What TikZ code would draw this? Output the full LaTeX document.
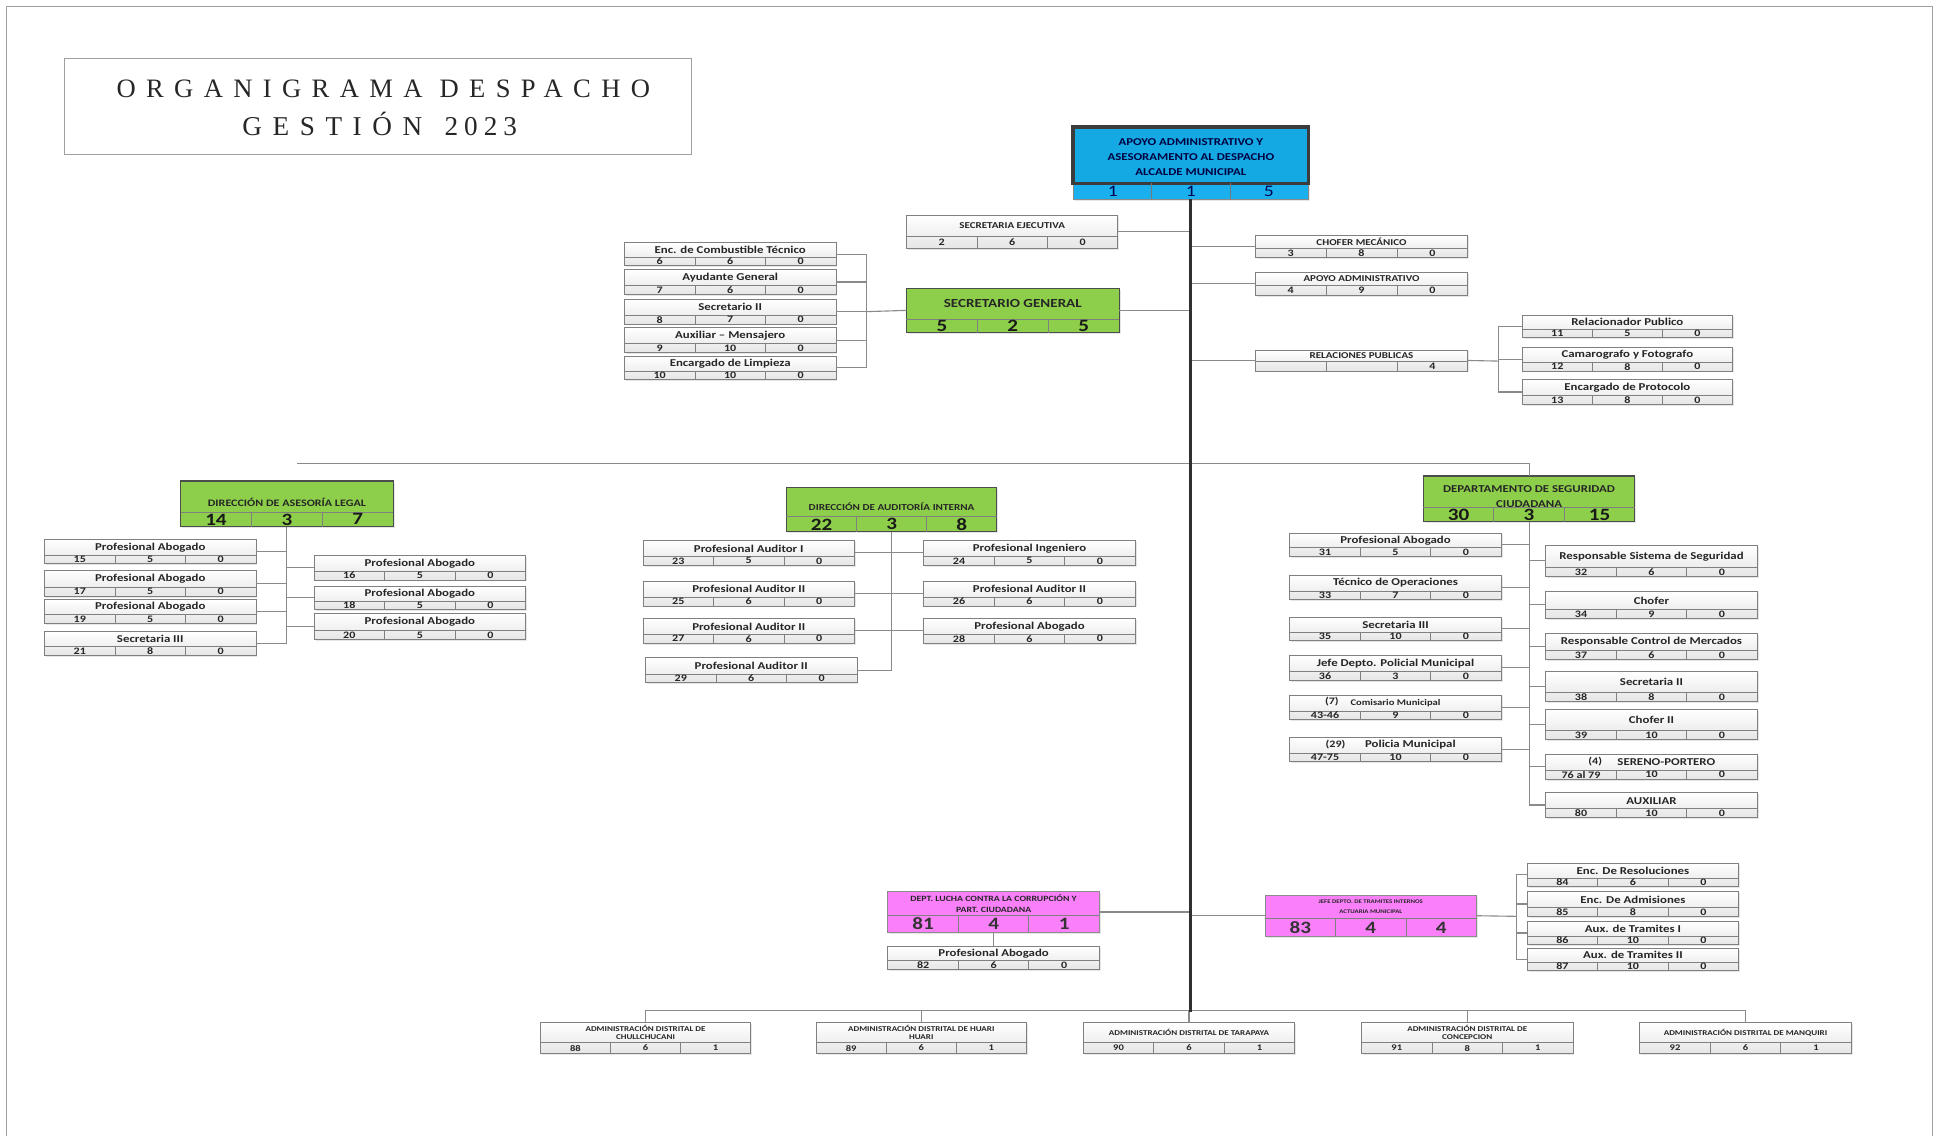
\documentclass[tikz,border=0pt]{standalone}
\usepackage{fontspec}
\setmainfont{Carlito}[FakeStretch=1.22]
\newfontfamily\headfont{Liberation Serif}[LetterSpace=39]
\newfontfamily\headyear{Liberation Serif}[LetterSpace=22]
\usetikzlibrary{calc,fit,shadows}

\definecolor{boxline}{HTML}{808080}
\definecolor{linkgray}{HTML}{8A8A8A}
\definecolor{trunkcol}{HTML}{303030}
\definecolor{greenfill}{HTML}{8DCF4A}
\definecolor{bluefill}{HTML}{14A9E3}
\definecolor{bluerow}{HTML}{1AB0EE}
\definecolor{blueedge}{HTML}{3C3C3C}
\definecolor{pinkfill}{HTML}{FA80FA}
\definecolor{framecol}{HTML}{A0A0A0}

\tikzset{
  rowh/.store in=\rowh, rowh=7pt,
  tshift/.store in=\tshift, tshift=0pt,
  softshadow/.style={drop shadow={shadow xshift=1.2pt, shadow yshift=-1.2pt, opacity=0.2}},
  boxshape/.style={draw=boxline, line width=0.7pt, top color=white, bottom color=black!10,
    inner sep=0pt, outer sep=0pt, softshadow},
  celldiv/.style={draw=boxline, line width=0.6pt},
  titletxt/.style={font=\bfseries\fontsize{8.5}{9.5}\selectfont, text=black!85, inner sep=0pt, align=center},
  numtxt/.style={font=\bfseries\fontsize{8}{8}\selectfont, text=black!85, inner sep=0pt},
  capstitle/.style={titletxt/.append style={font=\bfseries\fontsize{7.3}{8}\selectfont}},
  greenunit/.style={rowh=12pt,
    boxshape/.style={draw=black!70, line width=1pt, fill=greenfill, inner sep=0pt, outer sep=0pt, softshadow},
    celldiv/.style={draw=black!50, line width=0.7pt},
    numtxt/.style={font=\bfseries\fontsize{14}{14}\selectfont, text=black!90, inner sep=0pt}},
  pinkunit/.style={rowh=14pt,
    boxshape/.style={draw=black!45, line width=0.8pt, fill=pinkfill, inner sep=0pt, outer sep=0pt, softshadow},
    celldiv/.style={draw=black!50, line width=0.7pt},
    numtxt/.style={font=\bfseries\fontsize{14}{14}\selectfont, text=black!80, inner sep=0pt}},
  distunit/.style={rowh=9pt,
    titletxt/.append style={font=\bfseries\fontsize{6}{6.5}\selectfont},
    numtxt/.append style={font=\bfseries\fontsize{7}{7}\selectfont}},
  link/.style={draw=linkgray, line width=0.9pt},
  trunk/.style={draw=trunkcol, line width=2.6pt},
}

% \orgunit[options]{name}{top-left}{bottom-right}{title}{n1}{n2}{n3}
\newcommand{\orgunit}[8][]{%
  \begin{scope}[#1]
    \node[boxshape, fit={(#3) (#4)}] (#2) {};
    \draw[celldiv] ([yshift=\rowh]#2.south west) -- ([yshift=\rowh]#2.south east);
    \draw[celldiv] ($(#2.south west)!1/3!(#2.south east)$) -- ++(0pt,\rowh);
    \draw[celldiv] ($(#2.south west)!2/3!(#2.south east)$) -- ++(0pt,\rowh);
    \node[titletxt, yshift=-\tshift] at ($([yshift=\rowh]#2.south)!0.5!(#2.north)$) {#5};
    \node[numtxt] at ($([yshift={0.5*\rowh}]#2.south west)!1/6!([yshift={0.5*\rowh}]#2.south east)$) {#6};
    \node[numtxt] at ([yshift={0.5*\rowh}]#2.south) {#7};
    \node[numtxt] at ($([yshift={0.5*\rowh}]#2.south west)!5/6!([yshift={0.5*\rowh}]#2.south east)$) {#8};
  \end{scope}}

\begin{document}
\begin{tikzpicture}[x=1pt,y=-1pt]
\useasboundingbox (0,0) rectangle (1568,919);

% page frame
\draw[framecol, line width=0.8pt] (5,919) -- (5,5) -- (1563,5) -- (1563,919);

% heading
\node[draw=framecol, line width=0.8pt, fit={(52,47) (559,125)}, inner sep=0pt] (headbox) {};
\node[font=\headfont\fontsize{21.5}{26}\selectfont, text=black!85] (headone) at (310,72) {ORGANIGRAMA DESPACHO};
\node[font=\fontsize{22}{26}\selectfont, text=black!85] (headtwo) at (307,100) {{\headfont GESTIÓN}\hspace{18pt}{\headyear 2023}};

% ---------- top unit ----------
\node[fit={(868,103) (1058,161)}, inner sep=0pt, fill=bluerow, draw=blueedge!60, line width=0.6pt, softshadow] (alcalde) {};
\draw[blueedge, line width=2.6pt, fill=bluefill] (alcalde.north west) rectangle ([yshift=13pt]alcalde.south east);
\draw[blueedge!70, line width=0.7pt] ($(alcalde.south west)!1/3!(alcalde.south east)$) -- ++(0pt,13pt);
\draw[blueedge!70, line width=0.7pt] ($(alcalde.south west)!2/3!(alcalde.south east)$) -- ++(0pt,13pt);
\node[font=\bfseries\fontsize{8.5}{12}\selectfont, align=center, text=black!75!blue] (alcaldetxt) at (963,127) {APOYO ADMINISTRATIVO Y\\ASESORAMENTO AL DESPACHO\\ALCALDE MUNICIPAL};
\node[font=\fontsize{13}{13}\selectfont, text=black!70!blue] (alcaldea) at (900,154.5) {1};
\node[font=\fontsize{13}{13}\selectfont, text=black!70!blue] (alcaldeb) at (963,154.5) {1};
\node[font=\fontsize{13}{13}\selectfont, text=black!70!blue] (alcaldec) at (1026,154.5) {5};

% ---------- upper block ----------
\orgunit[capstitle, rowh=10pt]{sejec}{733,174}{904,201}{SECRETARIA EJECUTIVA}{2}{6}{0}
\orgunit[capstitle]{chofer}{1015,190}{1187,208}{CHOFER MECÁNICO}{3}{8}{0}
\orgunit[capstitle, rowh=8pt]{apoyo}{1015,220}{1187,239}{APOYO ADMINISTRATIVO}{4}{9}{0}
\orgunit[capstitle, rowh=8pt]{relpub}{1015,283}{1187,300}{RELACIONES PUBLICAS}{}{}{4}
\orgunit{relac}{1231,255}{1401,273}{Relacionador Publico}{11}{5}{0}
\orgunit{camar}{1231,281}{1401,300}{Camarografo y Fotografo}{12}{8}{0}
\orgunit{protoc}{1231,307}{1401,327}{Encargado de Protocolo}{13}{8}{0}

\orgunit[greenunit, rowh=11pt, titletxt/.append style={font=\bfseries\fontsize{10}{11}\selectfont}]{secgen}{733,233}{905,269}{SECRETARIO GENERAL}{5}{2}{5}
\orgunit{combus}{505,196}{676,215}{Enc. de Combustible Técnico}{6}{6}{0}
\orgunit{ayud}{505,218}{676,238}{Ayudante General}{7}{6}{0}
\orgunit{secdos}{505,242}{676,262}{Secretario II}{8}{7}{0}
\orgunit{mensaj}{505,265}{676,285}{Auxiliar – Mensajero}{9}{10}{0}
\orgunit{limp}{505,288}{676,307}{Encargado de Limpieza}{10}{10}{0}

% ---------- asesoría legal ----------
\orgunit[greenunit, tshift=5pt, titletxt/.append style={font=\bfseries\fontsize{8}{9}\selectfont}]{dal}{146,389}{318,426}{DIRECCIÓN DE ASESORÍA LEGAL}{14}{3}{7}
\orgunit{legala}{36,436}{207,456}{Profesional Abogado}{15}{5}{0}
\orgunit{legalb}{36,461}{207,482}{Profesional Abogado}{17}{5}{0}
\orgunit{legalc}{36,485}{207,504}{Profesional Abogado}{19}{5}{0}
\orgunit{legalsec}{36,511}{207,530}{Secretaria III}{21}{8}{0}
\orgunit{legald}{254,449}{425,469}{Profesional Abogado}{16}{5}{0}
\orgunit{legale}{254,474}{425,493}{Profesional Abogado}{18}{5}{0}
\orgunit{legalf}{254,496}{425,517}{Profesional Abogado}{20}{5}{0}

% ---------- auditoría interna ----------
\orgunit[greenunit, tshift=4pt, titletxt/.append style={font=\bfseries\fontsize{7.4}{8}\selectfont}]{dai}{636,394}{806,430}{DIRECCIÓN DE AUDITORÍA INTERNA}{22}{3}{8}
\orgunit{auda}{520,437}{691,457}{Profesional Auditor I}{23}{5}{0}
\orgunit{audb}{520,470}{691,490}{Profesional Auditor II}{25}{6}{0}
\orgunit{audc}{520,500}{691,520}{Profesional Auditor II}{27}{6}{0}
\orgunit{audd}{522,532}{693,552}{Profesional Auditor II}{29}{6}{0}
\orgunit{audinge}{747,437}{918,457}{Profesional Ingeniero}{24}{5}{0}
\orgunit{aude}{747,470}{918,490}{Profesional Auditor II}{26}{6}{0}
\orgunit{audabog}{747,500}{918,520}{Profesional Abogado}{28}{6}{0}

% ---------- seguridad ciudadana ----------
\orgunit[greenunit, tshift=4pt, titletxt/.append style={font=\bfseries\fontsize{8.5}{12}\selectfont}]{dsc}{1151,385}{1322,422}{DEPARTAMENTO DE SEGURIDAD\\CIUDADANA}{30}{3}{15}
\orgunit{sega}{1043,431}{1214,450}{Profesional Abogado}{31}{5}{0}
\orgunit{segtec}{1043,465}{1214,485}{Técnico de Operaciones}{33}{7}{0}
\orgunit{segsec}{1043,499}{1214,518}{Secretaria III}{35}{10}{0}
\orgunit{segjefe}{1043,530}{1214,550}{Jefe Depto. Policial Municipal}{36}{3}{0}
\orgunit[titletxt/.append style={font=\bfseries\fontsize{7}{8}\selectfont}]{segcom}{1043,562}{1214,582}{Comisario Municipal}{43-46}{9}{0}
\node[numtxt] (segcomn) at (1077,567) {(7)};
\orgunit{segpol}{1043,596}{1214,616}{\hspace{24pt}Policia Municipal}{47-75}{10}{0}
\node[numtxt] (segpoln) at (1080,602) {(29)};
\orgunit{segrss}{1250,441}{1421,466}{Responsable Sistema de Seguridad}{32}{6}{0}
\orgunit{segchof}{1250,478}{1421,500}{Chofer}{34}{9}{0}
\orgunit{segrcm}{1250,512}{1421,533}{Responsable Control de Mercados}{37}{6}{0}
\orgunit{segsecb}{1250,543}{1421,567}{Secretaria II}{38}{8}{0}
\orgunit{segchofb}{1250,574}{1421,598}{Chofer II}{39}{10}{0}
\orgunit{segser}{1250,610}{1421,630}{\hspace{24pt}SERENO-PORTERO}{76 al 79}{10}{0}
\node[numtxt] (segsern) at (1290,616) {(4)};
\orgunit{segaux}{1250,641}{1421,661}{AUXILIAR}{80}{10}{0}

% ---------- lucha contra la corrupción / trámites ----------
\orgunit[pinkunit, titletxt/.append style={font=\bfseries\fontsize{6.5}{9}\selectfont}]{dlc}{718,721}{889,754}{DEPT. LUCHA CONTRA LA CORRUPCIÓN Y\\PART. CIUDADANA}{81}{4}{1}
\orgunit{dlcabog}{718,765}{889,784}{Profesional Abogado}{82}{6}{0}
\orgunit[pinkunit, titletxt/.append style={font=\bfseries\fontsize{4.5}{8}\selectfont}]{jdt}{1023,724}{1194,757}{JEFE DEPTO. DE TRAMITES INTERNOS\\ACTUARIA MUNICIPAL}{83}{4}{4}
\orgunit{jdtres}{1235,698}{1406,717}{Enc. De Resoluciones}{84}{6}{0}
\orgunit{jdtadm}{1235,721}{1406,741}{Enc. De Admisiones}{85}{8}{0}
\orgunit{jdtauxa}{1235,745}{1406,764}{Aux. de Tramites I}{86}{10}{0}
\orgunit{jdtauxb}{1235,767}{1406,785}{Aux. de Tramites II}{87}{10}{0}

% ---------- administraciones distritales ----------
\orgunit[distunit]{adchu}{437,827}{607,852}{ADMINISTRACIÓN DISTRITAL DE\\CHULLCHUCANI}{88}{6}{1}
\orgunit[distunit]{adhua}{660,827}{830,852}{ADMINISTRACIÓN DISTRITAL DE HUARI\\HUARI}{89}{6}{1}
\orgunit[distunit]{adtar}{876,827}{1047,852}{ADMINISTRACIÓN DISTRITAL DE TARAPAYA}{90}{6}{1}
\orgunit[distunit]{adcon}{1101,827}{1272,852}{ADMINISTRACIÓN DISTRITAL DE\\CONCEPCION}{91}{8}{1}
\orgunit[distunit]{adman}{1326,827}{1497,852}{ADMINISTRACIÓN DISTRITAL DE MANQUIRI}{92}{6}{1}

% ---------- connectors ----------
\coordinate (trunkend) at (963,818);
\coordinate (sgbus) at (701,252);
\coordinate (rpbus) at (1212,292);
\coordinate (midbar) at (240,375);
\coordinate (dalend) at (232,520);
\coordinate (daiend) at (721,542);
\coordinate (jdtbus) at (1226,741);
\coordinate (distbar) at (522,817);

\draw[link] (sejec.east) -- (sejec.east -| trunkend);
\draw[link] (secgen.east) -- (secgen.east -| trunkend);
\draw[link] (chofer.west) -- (chofer.west -| trunkend);
\draw[link] (apoyo.west) -- (apoyo.west -| trunkend);
\draw[link] (relpub.west) -- (relpub.west -| trunkend);

\draw[link] (secgen.west) -- (sgbus);
\foreach \u in {combus,ayud,secdos,mensaj,limp} \draw[link] (\u.east) -| (sgbus);

\draw[link] (relpub.east) -- (rpbus);
\foreach \u in {relac,camar,protoc} \draw[link] (\u.west) -| (rpbus);

\draw[link] (midbar) -- (dsc.north |- midbar) -- (dsc.north);

\draw[link] (dal.south) -- (dalend);
\foreach \u in {legala,legalb,legalc,legalsec} \draw[link] (\u.east) -- (\u.east -| dalend);
\foreach \u in {legald,legale,legalf} \draw[link] (\u.west) -- (\u.west -| dalend);

\draw[link] (dai.south) -- (daiend);
\draw[link] (auda.east) -- (audinge.west);
\draw[link] (audb.east) -- (aude.west);
\draw[link] (audc.east) -- (audabog.west);
\draw[link] (audd.east) -- (audd.east -| daiend);

\draw[link] (dsc.south) |- (segaux.west);
\foreach \u in {sega,segtec,segsec,segjefe,segcom,segpol} \draw[link] (\u.east) -- (\u.east -| dsc.south);
\foreach \u in {segrss,segchof,segrcm,segsecb,segchofb,segser} \draw[link] (\u.west) -- (\u.west -| dsc.south);

\draw[link] (dlc.east) -- (dlc.east -| trunkend);
\draw[link] (jdt.west) -- (jdt.west -| trunkend);
\draw[link] (dlc.south) -- (dlcabog.north);
\draw[link] (jdt.east) -- (jdtbus);
\foreach \u in {jdtres,jdtadm,jdtauxa,jdtauxb} \draw[link] (\u.west) -| (jdtbus);

\draw[link] (adchu.north) -- (adchu.north |- distbar) -- (adman.north |- distbar) -- (adman.north);
\foreach \u in {adhua,adtar,adcon} \draw[link] (\u.north) -- (\u.north |- distbar);

\draw[trunk] (alcalde.south) -- (trunkend);
\end{tikzpicture}
\end{document}
